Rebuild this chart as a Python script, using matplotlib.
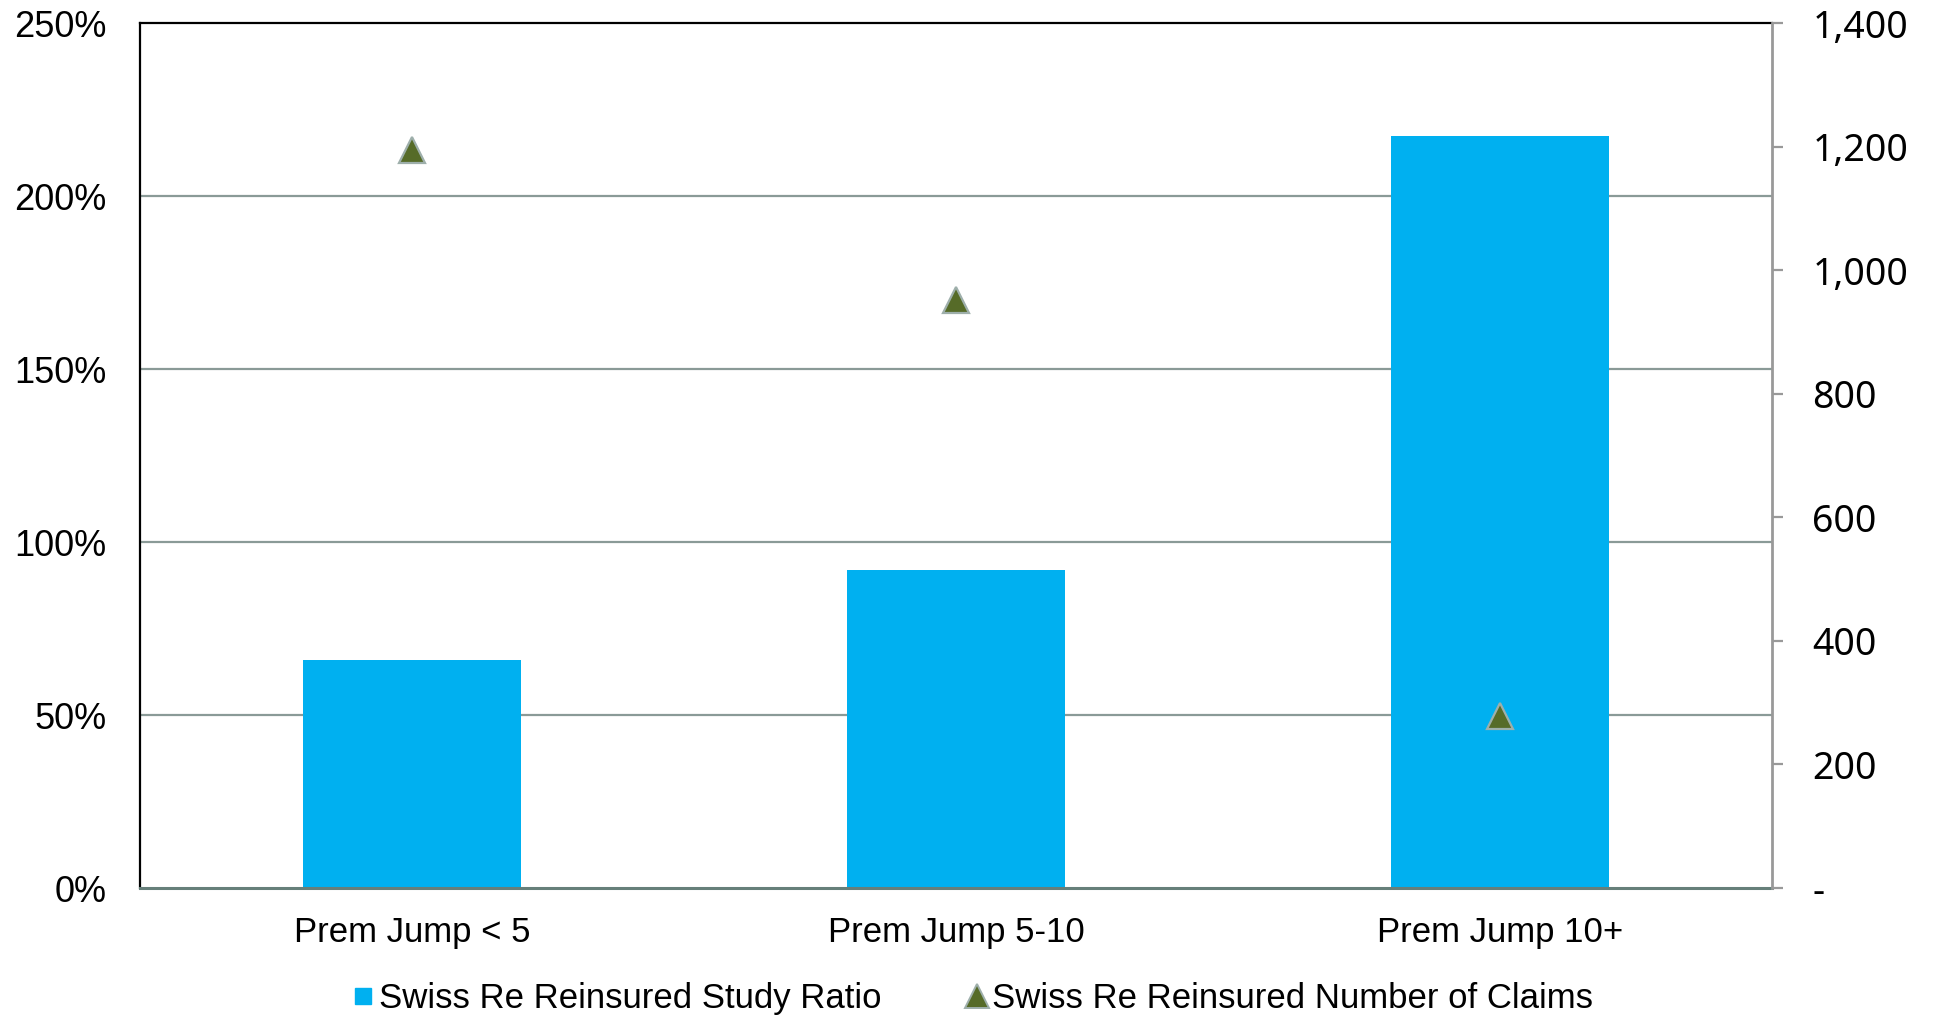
import matplotlib
matplotlib.use("Agg")
import matplotlib.pyplot as plt
from matplotlib.lines import Line2D
from matplotlib.ticker import FuncFormatter

plt.rcParams['font.family'] = ['Liberation Sans', 'DejaVu Sans']

categories = ['Prem Jump < 5', 'Prem Jump 5-10', 'Prem Jump 10+']
study_ratio = [65.9, 91.9, 217.4]      # percent, left axis
num_claims = [1194, 951, 278]          # count, right axis

ratio_label = 'Swiss Re Reinsured Study Ratio'
claims_label = 'Swiss Re Reinsured Number of Claims'

bar_color = '#00b0f0'
tri_face = '#566b28'
tri_edge = '#9eafab'
grid_color = '#8a9a97'

fig = plt.figure(figsize=(19.34, 10.15), dpi=100)
ax = fig.add_axes([0.0724, 0.1251, 0.8438, 0.8522])
ax2 = ax.twinx()

x = list(range(len(categories)))
ax.bar(x, study_ratio, width=0.4, color=bar_color, zorder=2)
ax.set_xlim(-0.5, 2.5)
ax.set_ylim(0, 250)
ax.set_yticks([0, 50, 100, 150, 200, 250])
ax.yaxis.set_major_formatter(FuncFormatter(lambda v, p: f'{v:.0f}%'))
ax.set_xticks(x)
ax.set_xticklabels(categories)

# horizontal grid behind the bars
for v in [50, 100, 150, 200]:
    ax.axhline(v, color=grid_color, lw=1.6, zorder=1)

ax.tick_params(axis='y', length=0, pad=24, labelsize=26)
ax.tick_params(axis='x', length=0, pad=20, labelsize=25)

ax.spines['left'].set_color('black')
ax.spines['left'].set_linewidth(1.6)
ax.spines['top'].set_color('black')
ax.spines['top'].set_linewidth(1.6)
ax.spines['bottom'].set_color('#667f7a')
ax.spines['bottom'].set_linewidth(2.2)
ax.spines['right'].set_visible(False)

ax2.plot(x, num_claims, linestyle='none', marker='^', markersize=19,
         markerfacecolor=tri_face, markeredgecolor=tri_edge, markeredgewidth=1.6,
         zorder=3)
ax2.set_ylim(0, 1400)
ax2.set_yticks(range(0, 1401, 200))
ax2.yaxis.set_major_formatter(
    FuncFormatter(lambda v, p: '-' if v == 0 else f'{v:,.0f}'))
ax2.tick_params(axis='y', direction='out', length=8, width=1.6, color='#999999',
                pad=21, labelsize=27)
for lbl in ax2.get_yticklabels():
    lbl.set_fontfamily(['Noto Sans', 'DejaVu Sans'])
for side in ['left', 'top', 'bottom']:
    ax2.spines[side].set_visible(False)
ax2.spines['right'].set_color('#999999')
ax2.spines['right'].set_linewidth(2.0)

handles = [
    Line2D([], [], linestyle='none', marker='s', markersize=11,
           markerfacecolor=bar_color, markeredgecolor=bar_color),
    Line2D([], [], linestyle='none', marker='^', markersize=17,
           markerfacecolor=tri_face, markeredgecolor=tri_edge, markeredgewidth=1.4),
]
fig.legend(handles, [ratio_label, claims_label], loc='center',
           bbox_to_anchor=(0.5035, 0.016), ncol=2, frameon=False, fontsize=25,
           handlelength=0.5, handletextpad=0.2, columnspacing=2.5,
           borderpad=0, borderaxespad=0)

fig.savefig('out.png', dpi=100)
